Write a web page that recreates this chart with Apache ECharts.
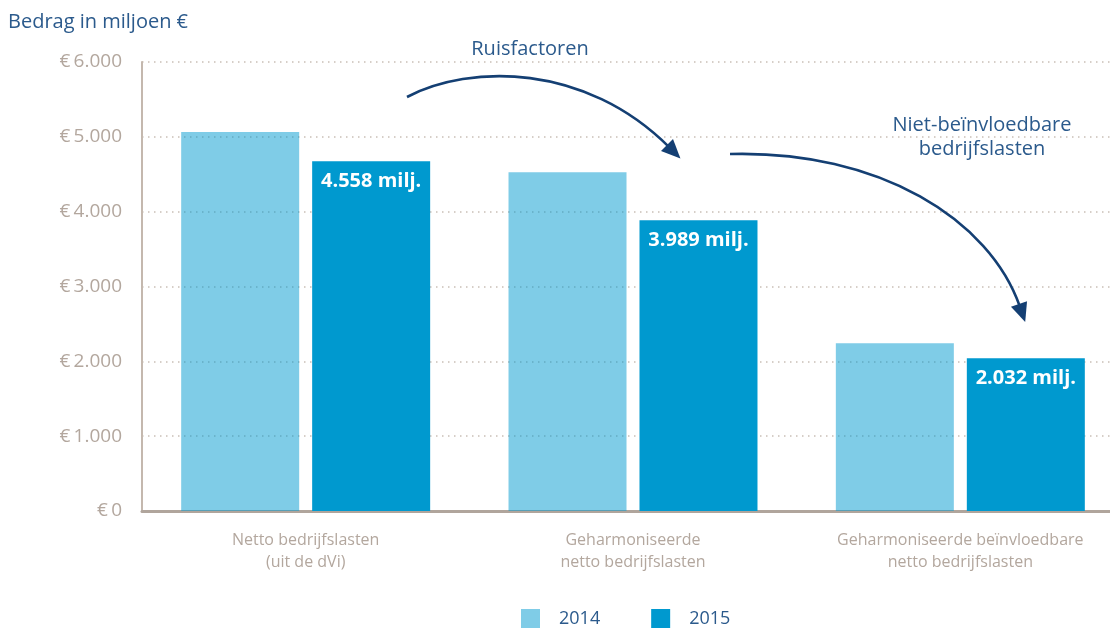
<!DOCTYPE html>
<html>
<head>
<meta charset="utf-8">
<script src="https://cdn.jsdelivr.net/npm/echarts@6/dist/echarts.min.js"></script>
<style>
html,body{margin:0;padding:0;background:#fff;overflow:hidden;width:1110px;height:628px;}
#chart{width:1124px;height:628px;}
</style>
</head>
<body>
<div id="chart"></div>
<script>
// ---- data ----
const categories = ['Netto bedrijfslasten\n(uit de dVi)', 'Geharmoniseerde\nnetto bedrijfslasten', 'Geharmoniseerde beïnvloedbare\nnetto bedrijfslasten'];
const seriesNames = ['2014', '2015'];
const values2014 = [5065, 4526, 2241];
const values2015 = [4673, 3885, 2041];
const labels2015 = ['4.558 milj.', '3.989 milj.', '2.032 milj.'];
const yTicks = [0, 1000, 2000, 3000, 4000, 5000, 6000];
const yTitle = 'Bedrag in miljoen €';
const note1 = 'Ruisfactoren';
const note2 = 'Niet-beïnvloedbare\nbedrijfslasten';

const FONT = '"Open Sans", sans-serif';
const NAVY = '#143f73';
const TXT = '#2b5a8c';
const GREY = '#b3a79e';
const BLUE = '#0099cf';

function fmt(v){ return '€\u2009' + String(v).replace(/\B(?=(\d{3})+(?!\d))/g, '.'); }

function arrow(p0, p1, p2, p3){
  const dx = p3[0]-p2[0], dy = p3[1]-p2[1];
  const len = Math.hypot(dx, dy); const ux = dx/len, uy = dy/len;
  const L = 19, W = 8.5;
  const tip = [p3[0]+ux*L, p3[1]+uy*L];
  const b1 = [p3[0]-uy*W, p3[1]+ux*W];
  const b2 = [p3[0]+uy*W, p3[1]-ux*W];
  return [
    {type:'bezierCurve', shape:{x1:p0[0],y1:p0[1],cpx1:p1[0],cpy1:p1[1],cpx2:p2[0],cpy2:p2[1],x2:p3[0]+ux*3,y2:p3[1]+uy*3},
     style:{stroke:NAVY, lineWidth:2.6, fill:null}, z:10},
    {type:'polygon', shape:{points:[tip,b1,b2]}, style:{fill:NAVY}, z:10}
  ];
}

const chart = echarts.init(document.getElementById('chart'));
chart.setOption({
  animation:false,
  textStyle:{fontFamily:FONT},
  grid:{left:142, right:0, top:62, bottom:117},
  legend:{
    left:516, top:604, itemWidth:19, itemHeight:19, itemGap:51,
    icon:'rect',
    textStyle:{fontFamily:FONT, fontSize:18, color:TXT, padding:[0,0,0,14]},
    data:seriesNames
  },
  graphic:[
    {type:'text', left:8, top:12, style:{text:yTitle, font:'20px '+FONT, fill:TXT}},
    {type:'text', x:530, y:49, style:{text:note1, font:'20px '+FONT, fill:TXT, align:'center', verticalAlign:'middle'}},
    {type:'text', x:982, y:137, style:{text:note2, font:'20px '+FONT, fill:TXT, align:'center', verticalAlign:'middle', lineHeight:24}},
    ...arrow([407,97],[470,64],[585,63],[667,145]),
    ...arrow([730,154],[880,150],[990,220],[1019,304])
  ],
  xAxis:{
    type:'category', data:categories,
    axisLine:{lineStyle:{color:'#b0a59c', width:3}},
    axisTick:{show:false},
    axisLabel:{color:GREY, fontSize:16, lineHeight:22, margin:18, fontFamily:FONT, interval:0}
  },
  yAxis:{
    type:'value', min:yTicks[0], max:yTicks[yTicks.length-1], interval:1000,
    axisLine:{show:true, lineStyle:{color:'#c4b8ae', width:2}},
    axisTick:{show:false},
    axisLabel:{color:GREY, fontSize:19, margin:20, fontFamily:FONT, formatter:fmt},
    splitLine:{show:true, lineStyle:{type:[1.5,4.5], color:'#c9bfb6', width:1.5}}
  },
  series:[
    {name:seriesNames[0], type:'bar', data:values2014, barWidth:118, barGap:'11%',
     itemStyle:{color:'rgba(0,153,207,0.5)'}},
    {name:seriesNames[1], type:'bar', data:values2015, barWidth:118,
     itemStyle:{color:BLUE},
     label:{show:true, position:'insideTop', distance:10, color:'#fff', fontWeight:'bold', fontSize:20, fontFamily:FONT,
            formatter:p => labels2015[p.dataIndex]}}
  ]
});
</script>
</body>
</html>
